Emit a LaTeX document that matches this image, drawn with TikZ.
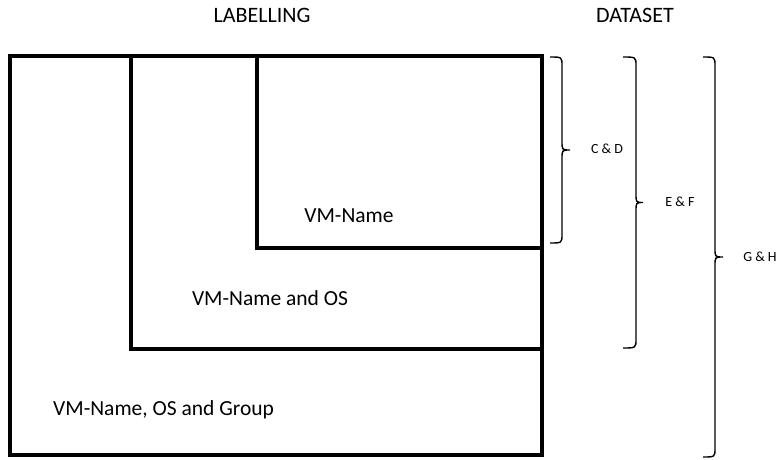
\documentclass[tikz,border=0pt]{standalone}
\usepackage{fontspec}
\setmainfont{Carlito}
\begin{document}
\begin{tikzpicture}[x=1pt,y=-1pt,
  region/.style={draw=black,line width=3.8pt,line join=miter},
  title/.style={font=\fontsize{22}{24}\selectfont,anchor=base,inner sep=0pt},
  area/.style={font=\fontsize{21.5}{24}\selectfont,anchor=base,inner sep=0pt},
  tag/.style={font=\fontsize{14}{16}\selectfont,anchor=base,inner sep=0pt},
  bracket/.style={draw=black,line width=1.4pt}]
\useasboundingbox (0,0) rectangle (780,460);
% nested label regions
\draw[region] (10,56) rectangle (542,455);
\draw[region] (131,56) rectangle (542,349);
\draw[region] (257,56) rectangle (542,248);
% headings
\node[title] (lab) at (262,23) {LABELLING};
\node[title] (ds) at (635,23) {DATASET};
% region texts
\node[area] (vm) at (349,222) {VM-Name};
\node[area] (vmos) at (270,305) {VM-Name and OS};
\node[area,anchor=base west] (vmosg) at (53,415) {VM-Name, OS and Group};
% dataset braces: hook x, vertical x, tip x, top, bottom
\newcommand{\dsbrace}[5]{%
  \pgfmathsetmacro{\ym}{(#4+#5)/2}%
  \draw[bracket] (#1,#4) .. controls (#2,#4) .. (#2,#4+9) -- (#2,\ym-9)
    .. controls (#2,\ym) .. (#3,\ym) .. controls (#2,\ym) .. (#2,\ym+9)
    -- (#2,#5-9) .. controls (#2,#5) .. (#1,#5);}
\dsbrace{550}{562}{570}{57}{243}
\dsbrace{623}{636}{643}{57}{348}
\dsbrace{703}{715}{723}{57}{457}
\node[tag] (cd) at (607,153.5) {C \& D};
\node[tag] (ef) at (680,206.5) {E \& F};
\node[tag] (gh) at (760,261.5) {G \& H};
\end{tikzpicture}
\end{document}
